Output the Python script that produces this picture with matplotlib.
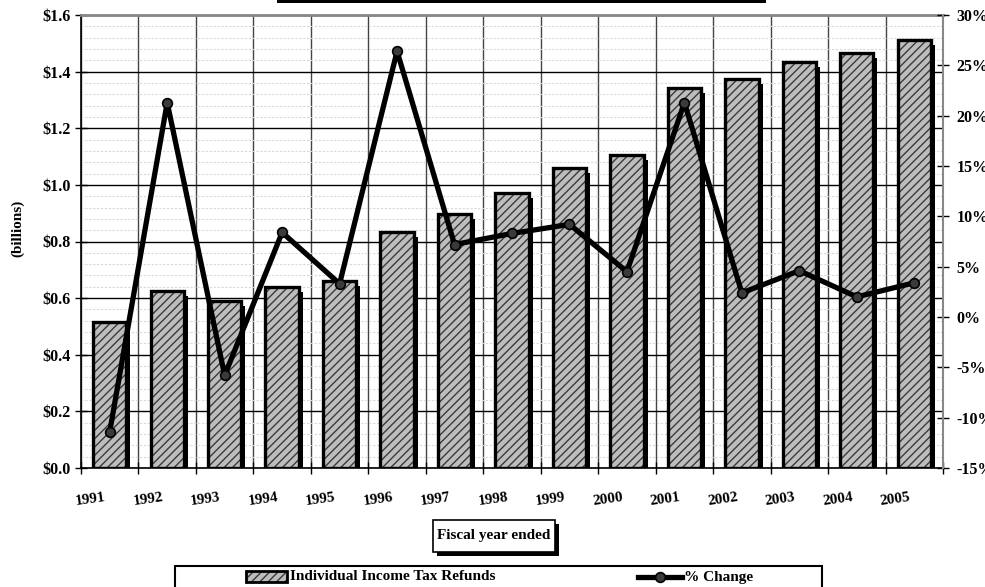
import matplotlib
matplotlib.use("Agg")
import matplotlib.pyplot as plt
import numpy as np
from matplotlib.transforms import ScaledTranslation
from matplotlib.patches import Rectangle
from matplotlib.lines import Line2D
from matplotlib.ticker import MultipleLocator, FuncFormatter

years = ["1991", "1992", "1993", "1994", "1995", "1996", "1997", "1998",
         "1999", "2000", "2001", "2002", "2003", "2004", "2005"]
refunds = [0.516, 0.625, 0.590, 0.640, 0.660, 0.834, 0.897, 0.971,
           1.060, 1.106, 1.342, 1.374, 1.434, 1.466, 1.512]
pct_change = [-11.4, 21.3, -5.8, 8.4, 3.3, 26.4, 7.2, 8.3,
              9.2, 4.5, 21.3, 2.4, 4.6, 2.0, 3.4]

plt.rcParams['font.family'] = ['Liberation Serif', 'DejaVu Serif']
plt.rcParams['font.weight'] = 'bold'
plt.rcParams['hatch.linewidth'] = 1.0

W, H = 985, 587
fig = plt.figure(figsize=(W / 100, H / 100), dpi=100)
ax = fig.add_axes([81 / W, 1 - 468 / H, (943 - 81) / W, (468 - 15) / H])

x = np.arange(len(years))
bw = 0.58

# shadow bars
sh = ax.bar(x, refunds, width=bw, color='black', linewidth=0, zorder=2)
off = ScaledTranslation(4 / 100, -5 / 100, fig.dpi_scale_trans)
for p in sh.patches:
    p.set_transform(ax.transData + off)
# hatched bars
ax.bar(x, refunds, width=bw, facecolor='#bdbdbd', edgecolor='#3a3a3a',
       linewidth=0, hatch='////', zorder=3)
# outline
ax.bar(x, refunds, width=bw, facecolor='none', edgecolor='black',
       linewidth=2.4, zorder=4)

ax.set_xlim(-0.5, len(years) - 0.5)
ax.set_ylim(0, 1.6)
ax.yaxis.set_major_locator(MultipleLocator(0.2))
ax.yaxis.set_minor_locator(MultipleLocator(0.04))
ax.yaxis.set_major_formatter(FuncFormatter(lambda v, p: f"${v:.1f}"))
ax.set_xticks(np.arange(len(years) + 1) - 0.5)
ax.set_xticklabels([])
ax.set_axisbelow(True)
ax.grid(axis='x', which='major', color='#444444', linewidth=1.0)
ax.grid(axis='y', which='major', color='black', linewidth=1.0)
ax.grid(axis='y', which='minor', color='#d9d9d9', linewidth=0.8, linestyle=(0, (2, 1.5)))
ax.tick_params(axis='y', which='major', direction='inout', length=9, width=1,
               labelsize=11.5, pad=3)
ax.tick_params(axis='y', which='minor', length=0)
ax.tick_params(axis='x', which='major', direction='inout', length=9, width=1)
for lab in ax.get_yticklabels():
    lab.set_fontweight('bold')
ax.spines['left'].set_color('black')
ax.spines['left'].set_linewidth(1.2)
ax.spines['bottom'].set_color('black')
ax.spines['bottom'].set_linewidth(1.2)
ax.spines['top'].set_color('#888888')
ax.spines['top'].set_linewidth(2)
ax.spines['right'].set_visible(False)

for i, yr in enumerate(years):
    ax.text(i - 0.33, -0.07, yr, transform=ax.get_xaxis_transform(),
            ha='center', va='center', rotation=8, fontsize=11, fontweight='bold')

ax.set_ylabel("(billions)", fontsize=11, fontweight='bold')
ax.yaxis.set_label_coords((24 - 81) / (943 - 81), 0.53)

ax2 = ax.twinx()
ax2.set_ylim(-15, 30)
ax2.yaxis.set_major_locator(MultipleLocator(5))
ax2.yaxis.set_major_formatter(FuncFormatter(lambda v, p: f"{v:.0f}%"))
ax2.plot(x, pct_change, color='black', linewidth=3.8, marker='o',
         markersize=7, markerfacecolor='#3a3a3a', markeredgecolor='black',
         markeredgewidth=1.2, zorder=5)
ax2.tick_params(axis='y', direction='inout', length=9, width=1, labelsize=11.5, pad=5)
for lab in ax2.get_yticklabels():
    lab.set_fontweight('bold')
for s in ['left', 'top', 'bottom']:
    ax2.spines[s].set_visible(False)
ax2.spines['right'].set_color('#888888')
ax2.spines['right'].set_linewidth(1.5)

# title bar remnant at top
fig.patches.append(Rectangle((277 / W, 1 - 3 / H), (766 - 277) / W, 4 / H,
                             transform=fig.transFigure, facecolor='black',
                             edgecolor='none'))

# "Fiscal year ended" box with shadow
bx0, by0, bx1, by1 = 433, 520, 555, 552
fig.patches.append(Rectangle(((bx0 + 4) / W, 1 - (by1 + 4) / H), (bx1 - bx0) / W,
                             (by1 - by0) / H, transform=fig.transFigure,
                             facecolor='black', edgecolor='none', zorder=1))
fig.patches.append(Rectangle((bx0 / W, 1 - by1 / H), (bx1 - bx0) / W,
                             (by1 - by0) / H, transform=fig.transFigure,
                             facecolor='white', edgecolor='black', linewidth=1.2,
                             zorder=2))
fig.text((bx0 + bx1) / 2 / W, 1 - (by0 + by1) / 2 / H, "Fiscal year ended",
         ha='center', va='center', fontsize=11, fontweight='bold', zorder=3)

# legend
fig.patches.append(Rectangle((175 / W, -0.05), (822 - 175) / W, 0.05 + (587 - 566) / H,
                             transform=fig.transFigure, facecolor='white',
                             edgecolor='black', linewidth=1.5))
fig.patches.append(Rectangle((246 / W, 1 - 582 / H), 41 / W, 11 / H,
                             transform=fig.transFigure, facecolor='#bdbdbd',
                             edgecolor='#3a3a3a', linewidth=0, hatch='////'))
fig.patches.append(Rectangle((246 / W, 1 - 582 / H), 41 / W, 11 / H,
                             transform=fig.transFigure, facecolor='none',
                             edgecolor='black', linewidth=2))
fig.text(290 / W, 1 - 577 / H, "Individual Income Tax Refunds", ha='left',
         va='center', fontsize=11, fontweight='bold')
fig.lines.append(Line2D([638 / W, 682 / W], [1 - 577 / H, 1 - 577 / H],
                        transform=fig.transFigure, color='black', linewidth=3.8))
fig.lines.append(Line2D([660 / W], [1 - 577 / H], transform=fig.transFigure,
                        marker='o', markersize=7, markerfacecolor='#3a3a3a',
                        markeredgecolor='black', markeredgewidth=1.2))
fig.text(684 / W, 1 - 577 / H, "% Change", ha='left', va='center',
         fontsize=11, fontweight='bold')

fig.savefig("out.png", dpi=100)
